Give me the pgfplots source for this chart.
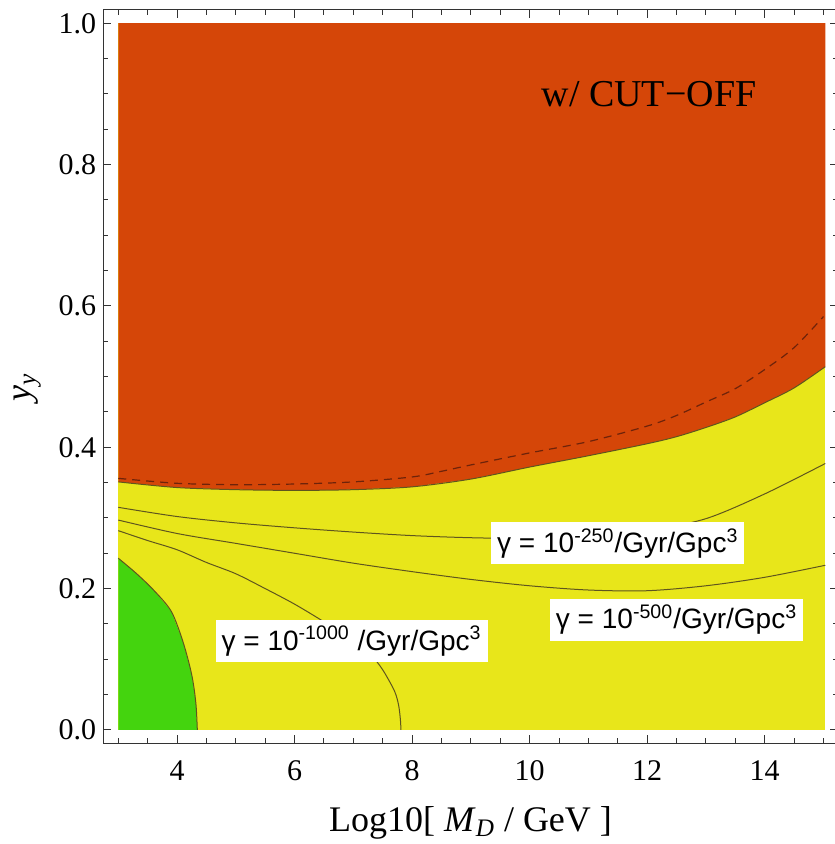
\documentclass[border=0pt]{standalone}
\usepackage{fontspec}
\setmainfont{Liberation Serif}
\newfontfamily\lsans{Liberation Sans}
\usepackage{pgfplots}
\pgfplotsset{compat=1.18}
\definecolor{cred}{RGB}{213,70,8}
\definecolor{cyel}{RGB}{232,230,26}
\definecolor{cgrn}{RGB}{68,212,14}
\definecolor{cline}{RGB}{95,85,30}
\definecolor{cdash}{RGB}{110,35,10}
\begin{document}
\begin{tikzpicture}
\path[use as bounding box] (-51.65pt,-50.35pt) rectangle (365.35pt,371.65pt);
\begin{axis}[
  scale only axis, width=367.3pt, height=366.7pt,
  xmin=2.745, xmax=15.245, ymin=-0.0189, ymax=1.0189,
  axis line style={black!80, line width=0.5pt},
  tick align=inside,
  xtick={4,6,8,10,12,14}, xticklabels={4,6,8,10,12,14},
  ytick={0,0.2,0.4,0.6,0.8,1}, yticklabels={0.0,0.2,0.4,0.6,0.8,1.0},
  minor xtick={3,3.5,4.5,5,5.5,6.5,7,7.5,8.5,9,9.5,10.5,11,11.5,12.5,13,13.5,14.5,15},
  minor ytick={0.05,0.1,0.15,0.25,0.3,0.35,0.45,0.5,0.55,0.65,0.7,0.75,0.85,0.9,0.95},
  major tick length=4pt, minor tick length=2.5pt,
  tick style={black!80, line width=0.5pt},
  xticklabel style={font=\fontsize{15}{17}\selectfont, yshift=-5pt},
  yticklabel style={font=\fontsize{15}{17}\selectfont},
  xlabel={Log10[ \textit{M}\textsubscript{\textit{D}} / GeV ]},
  ylabel={\textit{y}\textsubscript{\textit{y}}},
  every axis x label/.style={font=\fontsize{18}{21}\selectfont, at={(axis description cs:0.5,0)}, anchor=north, yshift=-28pt},
  every axis y label/.style={font=\fontsize{18}{21}\selectfont, at={(axis description cs:-0.1035,0.485)}, anchor=center, rotate=90},
]
% yellow background
\addplot[fill=cyel, draw=none] coordinates {(3,0) (15.03,0) (15.03,1) (3,1)} --cycle;
% red region
\addplot[fill=cred, draw=none] coordinates {
(3,1) (3,0.351) (4,0.343) (5,0.340) (6,0.339) (7,0.340) (8,0.344) (9,0.355) (10,0.372) (11,0.388) (12,0.405) (12.5,0.415) (13,0.428) (13.5,0.443) (14,0.463) (14.5,0.484) (15.03,0.514) (15.03,1)} --cycle;
% green region
\addplot[fill=cgrn, draw=none] coordinates {
(3,0) (3,0.243) (3.3,0.222) (3.6,0.198) (3.9,0.168) (4.1,0.125) (4.25,0.078) (4.32,0.038) (4.345,0)} --cycle;
% red boundary line
\addplot[cline, line width=0.5pt, smooth] coordinates {
(3,0.351) (4,0.343) (5,0.340) (6,0.339) (7,0.340) (8,0.344) (9,0.355) (10,0.372) (11,0.388) (12,0.405) (12.5,0.415) (13,0.428) (13.5,0.443) (14,0.463) (14.5,0.484) (15.03,0.514)};
% dashed line
\addplot[cdash, line width=0.6pt, dash pattern=on 4pt off 3pt, smooth] coordinates {
(3,0.356) (4,0.349) (5,0.347) (6,0.348) (7,0.351) (8,0.358) (8.5,0.366) (9,0.375) (10,0.392) (11,0.408) (12,0.430) (12.5,0.445) (13,0.464) (13.5,0.483) (14,0.510) (14.5,0.541) (15,0.585)};
% green boundary line
\addplot[cline, line width=0.5pt, smooth] coordinates {
(3,0.243) (3.3,0.222) (3.6,0.198) (3.9,0.168) (4.1,0.125) (4.25,0.078) (4.32,0.038) (4.345,0)};
% gamma = 1e-250
\addplot[cline, line width=0.5pt, smooth] coordinates {
(3,0.315) (4,0.302) (5,0.293) (6,0.286) (7,0.280) (8,0.275) (9,0.272) (10,0.271) (11,0.274) (12,0.282) (13,0.299) (14,0.334) (15.03,0.377)};
% gamma = 1e-500
\addplot[cline, line width=0.5pt, smooth] coordinates {
(3,0.297) (4,0.278) (5,0.264) (6,0.250) (7,0.236) (8,0.224) (9,0.213) (10,0.204) (11,0.198) (12,0.197) (13,0.204) (14,0.216) (15.03,0.233)};
% gamma = 1e-1000
\addplot[cline, line width=0.5pt, smooth] coordinates {
(3,0.282) (3.5,0.268) (4,0.255) (4.5,0.237) (5,0.221) (5.5,0.200) (6,0.178) (6.5,0.153) (7,0.126) (7.3,0.106) (7.5,0.085) (7.7,0.055) (7.77,0.035) (7.80,0.015) (7.81,0)};
% labels
\node[anchor=base, font=\fontsize{19}{22}\selectfont] at (axis cs:12.03,0.8825) {w/ CUT−OFF};
\node[fill=white, inner xsep=3pt, inner ysep=3pt, font=\lsans\fontsize{14}{16}\selectfont] at (axis cs:11.50,0.264) {γ = 10\textsuperscript{-250}/Gyr/Gpc\textsuperscript{3}};
\node[fill=white, inner xsep=3pt, inner ysep=3pt, font=\lsans\fontsize{14}{16}\selectfont] at (axis cs:12.50,0.156) {γ = 10\textsuperscript{-500}/Gyr/Gpc\textsuperscript{3}};
\node[fill=white, inner xsep=3pt, inner ysep=3pt, font=\lsans\fontsize{14}{16}\selectfont] at (axis cs:6.97,0.1255) {γ = 10\textsuperscript{-1000} /Gyr/Gpc\textsuperscript{3}};
\end{axis}
\end{tikzpicture}
\end{document}
